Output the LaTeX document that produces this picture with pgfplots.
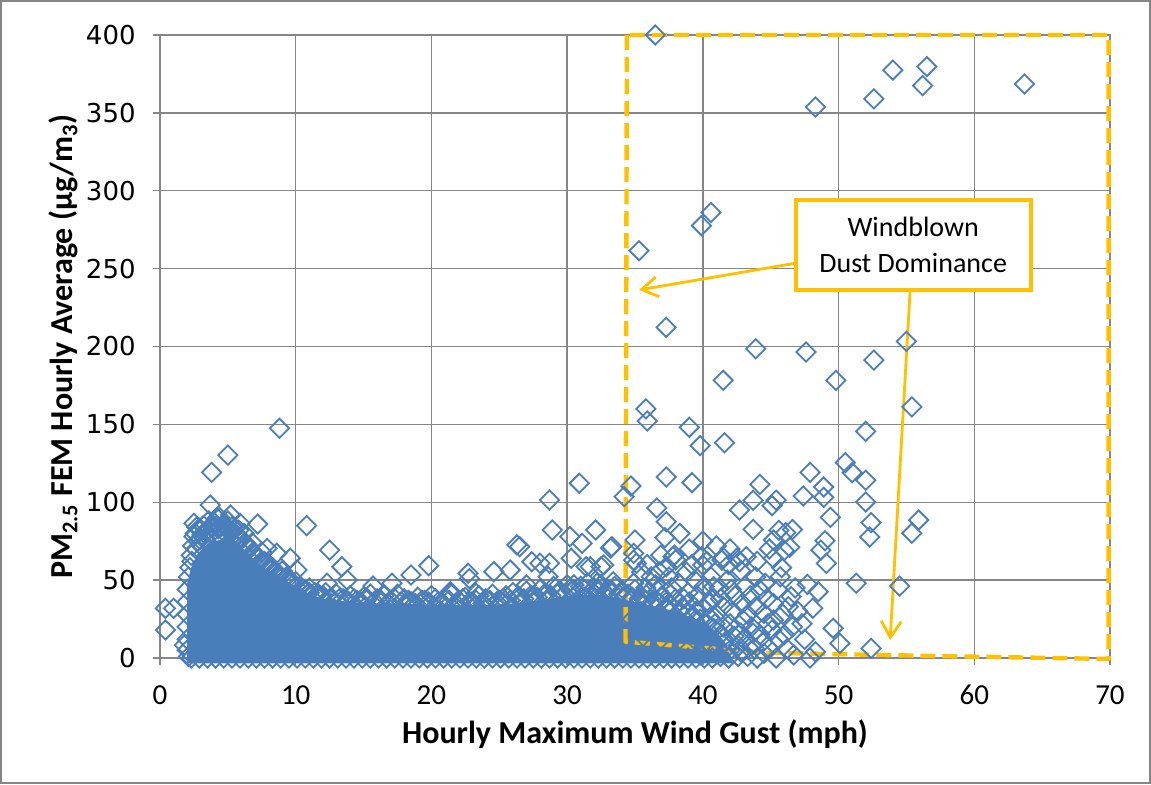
\documentclass[border=0pt]{standalone}
\usepackage{fontspec}
\setmainfont{Carlito}
\newfontfamily\dejavu{DejaVu Sans}
\usepackage{pgfplots}
\pgfplotsset{compat=1.18}
\usetikzlibrary{arrows.meta}
\definecolor{ptblue}{HTML}{4A7EBB}
\definecolor{gold}{HTML}{FFC000}
\definecolor{gridgray}{HTML}{868686}

\begin{document}
\begin{tikzpicture}
\begin{axis}[
  scale only axis, width=475pt, height=311.5pt,
  xmin=0, xmax=70, ymin=0, ymax=400,
  xtick={0,10,...,70}, ytick={0,50,...,400},
  grid=major, grid style={draw=gridgray, line width=0.7pt},
  axis line style={draw=gridgray, line width=0.7pt},
  tick style={draw=gridgray, line width=0.7pt},
  tick align=outside, tick pos=left, major tick length=3.5pt,
  /pgf/number format/assume math mode=true,
  yticklabel style={font=\dejavu\fontsize{13}{15}\selectfont, inner sep=0pt},
  yticklabel shift=8.5pt,
  xticklabel style={font=\fontsize{14.5}{16}\selectfont, inner sep=0pt},
  xticklabel shift=10pt,
  xlabel={Hourly Maximum Wind Gust (mph)},
  ylabel={PM\textsubscript{2.5} FEM Hourly Average (µg/m\textsubscript{3})},
  label style={font=\bfseries\fontsize{16}{19}\selectfont, inner sep=0pt},
  xlabel style={at={(axis description cs:0.5,-0.138)}, anchor=base},
  ylabel style={at={(axis description cs:-0.0863,0.5)}, anchor=south},
  clip=false,
]
% dense core of the cloud, where the markers merge
\addplot[fill=ptblue, draw=none, mark=none] coordinates {
(2.0,-3.5) (2.0,48) (2.3,58) (2.7,66) (3.2,71) (4.0,75) (5.0,77) (5.8,73) (6.5,67) (7.2,61)
(8.0,56) (9.0,51) (10.0,46) (11.0,41) (12.0,38) (13.0,37) (14.0,36) (16.0,35)
(18.0,35) (20.0,34) (22.0,34) (24.0,34) (26.0,35) (28.0,37) (30.0,40) (32.0,41)
(34.0,38) (36.0,34) (38.0,30) (40.0,23) (41.0,17) (41.8,8) (42.2,-3.5)
};

% individual hours
\addplot[only marks, mark=square, mark size=3.4pt,
  mark options={draw=ptblue, fill=none, line width=0.9pt, rotate=45}] coordinates {
(0.4,31.9) (1.0,31.9) (0.4,18)
(1.8,8.3) (2.1,1) (2.0,5) (2.0,12) (2.0,20) (2.0,28) (2.0,36) (2.0,44)
(2.3,0) (2.9,0) (3.5,0) (4.1,0) (4.7,0) (5.3,0) (5.9,0) (6.5,0) (7.1,0) (7.7,0)
(8.3,0) (8.9,0) (9.5,0) (10.1,0) (10.7,0) (11.3,0) (11.9,0) (12.5,0) (13.1,0) (13.7,0)
(14.3,0) (14.9,0) (15.5,0) (16.1,0) (16.7,0) (17.3,0) (17.9,0) (18.5,0) (19.1,0) (19.7,0)
(20.3,0) (20.9,0) (21.5,0) (22.1,0) (22.7,0) (23.3,0) (23.9,0) (24.5,0) (25.1,0) (25.7,0)
(26.3,0) (26.9,0) (27.5,0) (28.1,0) (28.7,0) (29.3,0) (29.9,0) (30.5,0) (31.1,0) (31.7,0)
(32.3,0) (32.9,0) (33.5,0) (34.1,0) (34.7,0) (35.3,0) (35.9,0) (36.5,0) (37.1,0) (37.7,0)
(38.3,0) (38.9,0) (39.5,0) (40.1,0) (40.7,0) (41.3,1) (41.9,0) (42.6,1) (43.3,1) (44.0,0)
(2.1,52) (2.2,58) (2.3,66) (2.4,72) (2.5,78) (2.6,80) (2.7,84) (2.8,75) (3.0,82) (3.1,79)
(3.2,85) (3.3,77) (3.4,81) (3.5,74) (3.6,88) (3.8,80) (3.9,84) (4.0,87) (4.1,78) (4.3,83)
(4.4,90) (4.6,82) (4.7,86) (4.9,84) (5.0,88) (5.2,80) (5.3,84) (5.5,83) (5.7,78) (5.8,82)
(6.0,76) (6.2,80) (6.4,73) (6.6,70) (6.8,74) (7.0,67) (7.3,64) (7.5,68) (7.7,62) (8.0,60)
(8.3,58) (8.6,55) (9.0,56) (9.3,52) (9.6,50) (10.0,49) (10.3,46) (10.7,44) (11.0,45) (11.4,42)
(11.8,40) (12.2,42) (12.6,39) (13.0,41) (13.5,38) (14.0,40) (14.5,37) (15.0,39) (15.5,41) (16.0,38)
(16.5,40) (17.0,37) (17.5,41) (18.0,38) (18.5,36) (19.0,39) (19.5,37) (20.0,40) (20.5,36) (21.0,38)
(21.5,41) (22.0,37) (22.5,39) (23.0,36) (23.5,40) (24.0,38) (24.5,41) (25.0,37) (25.5,40) (26.0,42)
(26.5,39) (27.0,43) (27.5,40) (28.0,44) (28.5,41) (29.0,46) (29.5,43) (30.0,47) (30.5,44) (31.0,46)
(31.5,48) (32.0,45) (32.5,47) (33.0,44) (33.5,46) (34.0,43) (34.5,41) (35.0,44) (35.5,39) (36.0,42)
(36.5,37) (37.0,40) (37.5,35) (38.0,38) (38.5,33) (39.0,36) (39.5,30) (40.0,32) (40.5,26) (41.0,28)
(41.5,20) (42.0,22) (42.3,14) (42.6,8) (42.8,16)
(2.35,62) (2.65,70) (2.95,76) (3.25,80) (3.55,82) (3.85,84) (4.15,85) (4.45,84) (4.75,85) (5.05,83)
(5.35,81) (5.65,79) (5.95,77) (6.25,74) (6.55,71) (6.85,68) (7.15,65) (7.45,62) (7.75,60) (8.05,57)
(8.4,55) (8.8,53) (9.2,51) (9.6,48) (10.0,46) (10.5,44) (11.0,42) (11.5,40) (12.0,40) (12.5,38)
(13.2,38) (13.8,37) (14.3,38) (14.8,36) (15.3,38) (15.8,36) (16.3,37) (16.8,35) (17.3,38) (17.8,36)
(18.3,37) (18.8,35) (19.3,37) (19.8,36) (20.3,38) (20.8,35) (21.3,37) (21.8,35) (22.3,38) (22.8,36)
(23.3,37) (23.8,35) (24.3,37) (24.8,36) (25.3,38) (25.8,37) (26.3,39) (26.8,38) (27.3,40) (27.8,39)
(28.3,41) (28.8,40) (29.3,42) (29.8,41) (30.3,43) (30.8,42) (31.3,44) (31.8,43) (32.3,44) (32.8,42)
(33.3,43) (33.8,41) (34.3,40) (34.8,39) (35.3,38) (35.8,37) (36.3,36) (36.8,35) (37.3,33) (37.8,32)
(38.3,30) (38.8,29) (39.3,27) (39.8,25) (40.3,22) (40.8,19) (41.3,15)
(8.8,147.5) (5.0,130.3) (3.8,119.2) (3.7,98.2) (2.5,86.5) (5.2,91.8) (7.2,86) (10.8,85)
(12.5,69.3) (13.4,58.6) (13.8,50.1) (12.3,48) (9.6,64) (8.6,67.2) (10.1,56.5) (7.9,70.4)
(5.9,86.5) (4.2,89.7) (2.9,83.3)
(15.7,46.2) (17.1,48) (18.5,53.3) (19.8,59.3) (21.4,41.5) (22.7,54.4) (22.8,51) (24.6,55.4)
(25.8,56.5) (26.3,72.6) (26.5,71.5) (27.4,61.8) (28.7,60.8) (28.7,101.4) (28.9,82.2) (30.2,77.9)
(30.3,64) (30.9,112.2) (31.1,73.6) (31.7,58.6) (32.1,82.2) (32.5,58.6) (33.3,71.5) (33.4,49)
(21.4,42.6) (23.3,41.5) (27.0,46.9) (28.0,60.8) (28.6,52.2) (31.4,58.6) (32.7,59.7) (30.5,46.9)
(32.2,48) (31.1,39.4)
(34.9,67.2) (35.1,60.8) (37.3,58.6) (37.9,66.1) (39.9,65) (40.0,59.7) (41.4,62.9) (40.8,45.8)
(36.2,52.2) (36.8,55.4) (35.5,55) (37.5,52) (38.2,48) (38.8,55) (39.4,50) (40.1,46) (40.6,52)
(41.2,45) (41.8,50) (42.4,40) (42.9,35) (43.3,28) (43.6,20) (43.0,12) (43.8,6) (44.2,15)
(42.0,5) (40.6,8) (39.8,2) (43.5,40) (44.6,48) (42.8,56) (41.9,60) (40.3,62) (39.2,60)
(38.0,63) (36.9,66) (35.9,60) (37.7,45) (36.5,47) (38.9,42) (40.8,38) (41.5,33) (42.2,30)
(43.9,33) (44.8,22) (45.6,12) (46.2,6) (44.5,3) (47.0,30) (46.8,45) (45.8,58) (44.0,62)
(43.2,65) (42.5,64) (42.0,70) (41.0,72) (40.0,75) (39.0,70) (38.3,80) (45.2,64) (46.0,69)
(44.9,70)
(34.8,25) (35.4,30) (36.1,22) (36.7,28) (37.4,20) (38.1,26) (38.7,18) (39.4,24) (40.2,16) (40.9,22)
(41.6,10) (42.3,18) (43.0,24) (43.7,16) (44.4,10) (45.1,18) (45.9,28) (46.6,20) (47.5,12) (48.3,4)
(42.8,4) (43.6,8) (44.9,6) (41.1,6) (39.6,10) (38.3,12) (36.9,12) (35.6,14) (34.9,48) (35.8,45)
(36.7,43) (37.6,41) (38.6,38) (39.6,40) (40.5,35) (41.3,38) (42.1,44) (43.1,46) (43.9,52) (44.7,38)
(45.5,44) (46.3,33) (47.3,22) (48.1,32) (46.0,15)
(36.5,400) (54.0,377.5) (56.5,379.7) (56.2,367.5) (52.6,359) (48.3,353.8) (63.7,368.5)
(40.6,286) (39.9,277.6) (35.3,261.5) (37.3,212.3) (43.9,198.6) (47.6,196.5) (55.0,203.3)
(52.6,191.3) (41.5,178.3) (49.8,178.3) (55.4,161.2) (35.8,160) (35.9,152.2) (39.0,148.1)
(39.8,136.3) (41.6,138.2) (52.0,145.5) (37.3,116.2) (39.2,112.6) (34.7,110.4) (34.2,103.6)
(50.5,125.4) (51.0,119) (52.0,114.1) (47.9,119.2) (44.2,111.5) (48.9,109.8) (48.9,103.2)
(47.4,104) (52.0,100.2) (45.4,101.4) (45.1,97.8) (43.7,101.2) (42.7,95) (36.6,96.3)
(37.3,87.5) (37.2,77.3) (49.4,90.3) (52.4,86.9) (52.3,77.7) (55.9,88.6) (55.4,80.1)
(43.7,82.6) (45.6,82) (46.1,80.5) (46.6,82.5) (45.2,75.8) (46.4,71.1) (49.0,75.3) (48.7,69.3)
(49.1,60.8) (35.0,75.8) (33.2,70.6) (34.9,62.9) (37.8,65) (41.5,64.6) (42.7,61.8)
(51.3,48) (54.5,46.2) (48.5,42.6) (47.7,47.3) (46.5,39.4) (45.7,52.2) (44.2,43.7) (49.6,19.1)
(50.1,9.4) (52.4,6.2) (47.9,0) (46.7,2) (45.4,0) (45.2,24.4) (45.2,35.1) (44.5,28.7)
};

% windblown dust region
\draw[gold, line width=2.2pt, dash pattern=on 7.5pt off 3.5pt, line join=round]
  (axis cs:34.4,400) -- (axis cs:34.3,10.5) -- (axis cs:44.7,3.4) -- (axis cs:57,1.3)
  -- (axis cs:69.9,-0.6) -- (axis cs:69.9,400) -- cycle;
\draw[gold, line width=1.4pt, -{Straight Barb[length=8pt,width=10pt]}]
  (axis cs:47.5,254.5) -- (axis cs:35.3,236.3);
\draw[gold, line width=1.4pt, -{Straight Barb[length=8pt,width=10pt]}]
  (axis cs:55.3,240) -- (axis cs:53.8,11.6);
\node[draw=gold, line width=2pt, fill=white, align=center, inner sep=0pt,
  minimum width=117.5pt, minimum height=45pt,
  font=\fontsize{14}{17.7}\selectfont] at (axis cs:55.5,265.2)
  {Windblown\\Dust Dominance};
\end{axis}
\draw[gridgray, line width=1pt] (-79.5pt,-62.5pt) rectangle (495pt,328.5pt);
\pgfresetboundingbox
\path[use as bounding box] (-80pt,-63pt) rectangle (495.5pt,329pt);
\end{tikzpicture}
\end{document}
